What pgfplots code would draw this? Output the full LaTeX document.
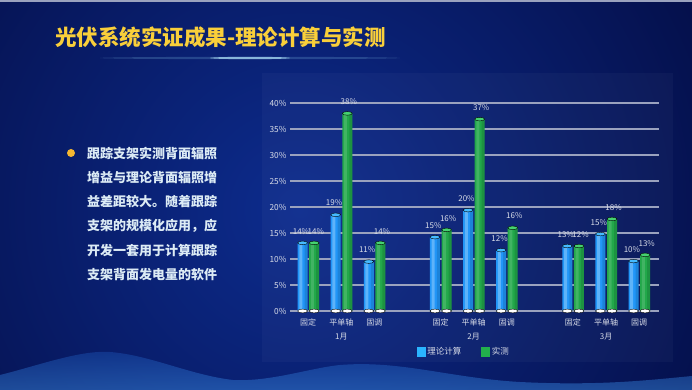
\documentclass[border=0pt]{standalone}
\usepackage{pgfplots}
\pgfplotsset{compat=1.18}
\usepackage{pgfplotstable}
\usepackage{fontspec}
\setmainfont{Noto Sans CJK SC}
\definecolor{bgdark}{HTML}{030B40}
\definecolor{bgmid}{HTML}{0D2C8E}
\definecolor{waveA}{HTML}{1A4FB0}
\definecolor{waveB}{HTML}{3C8FE8}
\definecolor{titlec}{HTML}{F9CF3A}
\definecolor{textc}{HTML}{DCEBF5}
\definecolor{dotc}{HTML}{F5B731}
\definecolor{gridc}{HTML}{9AA2BE}
\definecolor{tickc}{HTML}{D8DCE8}
\definecolor{bBase}{HTML}{2196F8}
\definecolor{bCap}{HTML}{45BAFF}
\definecolor{gBase}{HTML}{22A84A}
\definecolor{gCap}{HTML}{45D270}
\definecolor{legB}{HTML}{2AB4FF}
\definecolor{legG}{HTML}{22B04C}

% x = category position offset, y = bar height, lab = printed label, z = base
\pgfplotstableread{
x      y     lab  z
-0.17  13.1  14   0
0.83   18.5  19   0
1.83   9.5   11   0
3.83   14.2  15   0
4.83   19.4  20   0
5.83   11.7  12   0
7.83   12.5  13   0
8.83   14.8  15   0
9.83   9.6   10   0
}\theory
\pgfplotstableread{
x      y     lab  z
0.18   13.1  14   0
1.18   38.0  38   0
2.18   13.1  14   0
4.18   15.6  16   0
5.18   36.9  37   0
6.18   16.0  16   0
8.18   12.5  12   0
9.18   17.7  18   0
10.18  10.8  13   0
}\measured

\begin{document}
\begin{tikzpicture}[x=1pt,y=1pt]
\useasboundingbox (0,0) rectangle (692,390);
\begin{scope}
\clip (0,0) rectangle (692,390);
\fill[bgdark] (0,0) rectangle (692,390);
\shade[inner color=bgmid, outer color=bgdark] (300,180) circle (520);
% bottom wave
\shade[top color=waveA, bottom color=waveB, opacity=0.45]
  (0,15) .. controls (40,25) and (80,40) .. (110,38)
  .. controls (150,35) and (190,15) .. (233,10)
  .. controls (270,8) and (310,22) .. (340,25)
  .. controls (400,30) and (450,12) .. (520,8)
  .. controls (600,4) and (650,10) .. (692,14)
  -- (692,0) -- (0,0) -- cycle;
\fill[white, opacity=0.03] (262,28) rectangle (673,317);
% top strip
\fill[gridc] (0,388) rectangle (692,390);
% title glow
\fill[cyan!40!white, opacity=0.2] (250,332) ellipse (150 and 1.2);
\fill[cyan!30!white, opacity=0.7] (250,332) ellipse (40 and 1.2);
\end{scope}

\node[anchor=west, text=titlec, font=\fontsize{21.5}{25}\selectfont\bfseries, inner sep=0pt]
  at (55,353) {光伏系统实证成果-理论计算与实测};

\fill[dotc] (71,237) circle (4);
\foreach \t [count=\i from 0] in {跟踪支架实测背面辐照,增益与理论背面辐照增,益差距较大。随着跟踪,支架的规模化应用，应,开发一套用于计算跟踪,支架背面发电量的软件}{
  \node[anchor=west, text=textc, font=\fontsize{13}{16}\selectfont\bfseries, inner sep=0pt]
    at (87,{237-24.4*\i}) {\t};
}

\begin{axis}[
  at={(290pt,79pt)}, anchor=south west, scale only axis,
  width=369pt, height=208pt,
  xmin=-0.55, xmax=10.6, ymin=0, ymax=40,
  clip=false,
  axis line style={draw=none}, major tick length=0pt,
  ymajorgrids, grid style={gridc, line width=1.1pt},
  ytick={0,5,...,40},
  yticklabel={\pgfmathprintnumber{\tick}\%},
  /pgf/number format/assume math mode=true,
  yticklabel style={font=\fontsize{8.3}{9}\selectfont, text=tickc},
  xtick={0,1,2,4,5,6,8,9,10},
  xticklabels={固定,平单轴\\1月,固调,固定,平单轴\\2月,固调,固定,平单轴\\3月,固调},
  xticklabel style={font=\fontsize{8}{14}\selectfont, text=tickc, align=center, anchor=north, yshift=-4pt},
  legend style={at={(0.4715,-0.197)}, anchor=center, draw=none, fill=none,
    text=tickc, font=\fontsize{8.5}{10}\selectfont, legend columns=2,
    /tikz/every even column/.append style={column sep=18pt}},
  every node near coord/.append style={font=\fontsize{8}{9}\selectfont, text=tickc, anchor=south, yshift=8.5pt, inner sep=0pt},
]
\addlegendimage{legend image code/.code={\fill[legB] (0pt,-4.5pt) rectangle (8pt,4.5pt);}}
\addlegendentry{理论计算}
\addlegendimage{legend image code/.code={\fill[legG] (0pt,-4.5pt) rectangle (8pt,4.5pt);}}
\addlegendentry{实测}

% bar bodies
\addplot[ybar, bar width=10pt, bar shift=0pt, draw=none, fill=bBase, forget plot]
  table[x=x, y=y] {\theory};
\addplot[ybar, bar width=10pt, bar shift=0pt, draw=none, fill=gBase, forget plot]
  table[x=x, y=y] {\measured};
% cylinder highlight and shade
\addplot[ybar, bar width=3pt, bar shift=-1.8pt, draw=none, fill=white, fill opacity=0.28, forget plot]
  table[x=x, y=y] {\theory};
\addplot[ybar, bar width=3pt, bar shift=-1.8pt, draw=none, fill=white, fill opacity=0.14, forget plot]
  table[x=x, y=y] {\measured};
\addplot[ybar, bar width=3pt, bar shift=3.5pt, draw=none, fill=black, fill opacity=0.12, forget plot]
  table[x=x, y=y] {\theory};
\addplot[ybar, bar width=3pt, bar shift=3.5pt, draw=none, fill=black, fill opacity=0.12, forget plot]
  table[x=x, y=y] {\measured};

% white bases
\addplot[only marks, mark=*, mark size=5pt, mark options={draw=none, fill=white, yscale=0.38}, forget plot]
  table[x=x, y=z] {\theory};
\addplot[only marks, mark=*, mark size=5pt, mark options={draw=none, fill=white, yscale=0.38}, forget plot]
  table[x=x, y=z] {\measured};

% caps with value labels
\addplot[only marks, mark=*, mark size=5pt, mark options={draw=none, fill=bCap, yscale=0.36},
  point meta=explicit symbolic, nodes near coords={\pgfplotspointmeta\%},
  nodes near coords style={xshift=-1.6pt}, forget plot]
  table[x=x, y=y, meta=lab] {\theory};
\addplot[only marks, mark=*, mark size=5pt, mark options={draw=none, fill=gCap, yscale=0.36},
  point meta=explicit symbolic, nodes near coords={\pgfplotspointmeta\%},
  nodes near coords style={xshift=1.6pt}, forget plot]
  table[x=x, y=y, meta=lab] {\measured};
\end{axis}
\end{tikzpicture}
\end{document}
